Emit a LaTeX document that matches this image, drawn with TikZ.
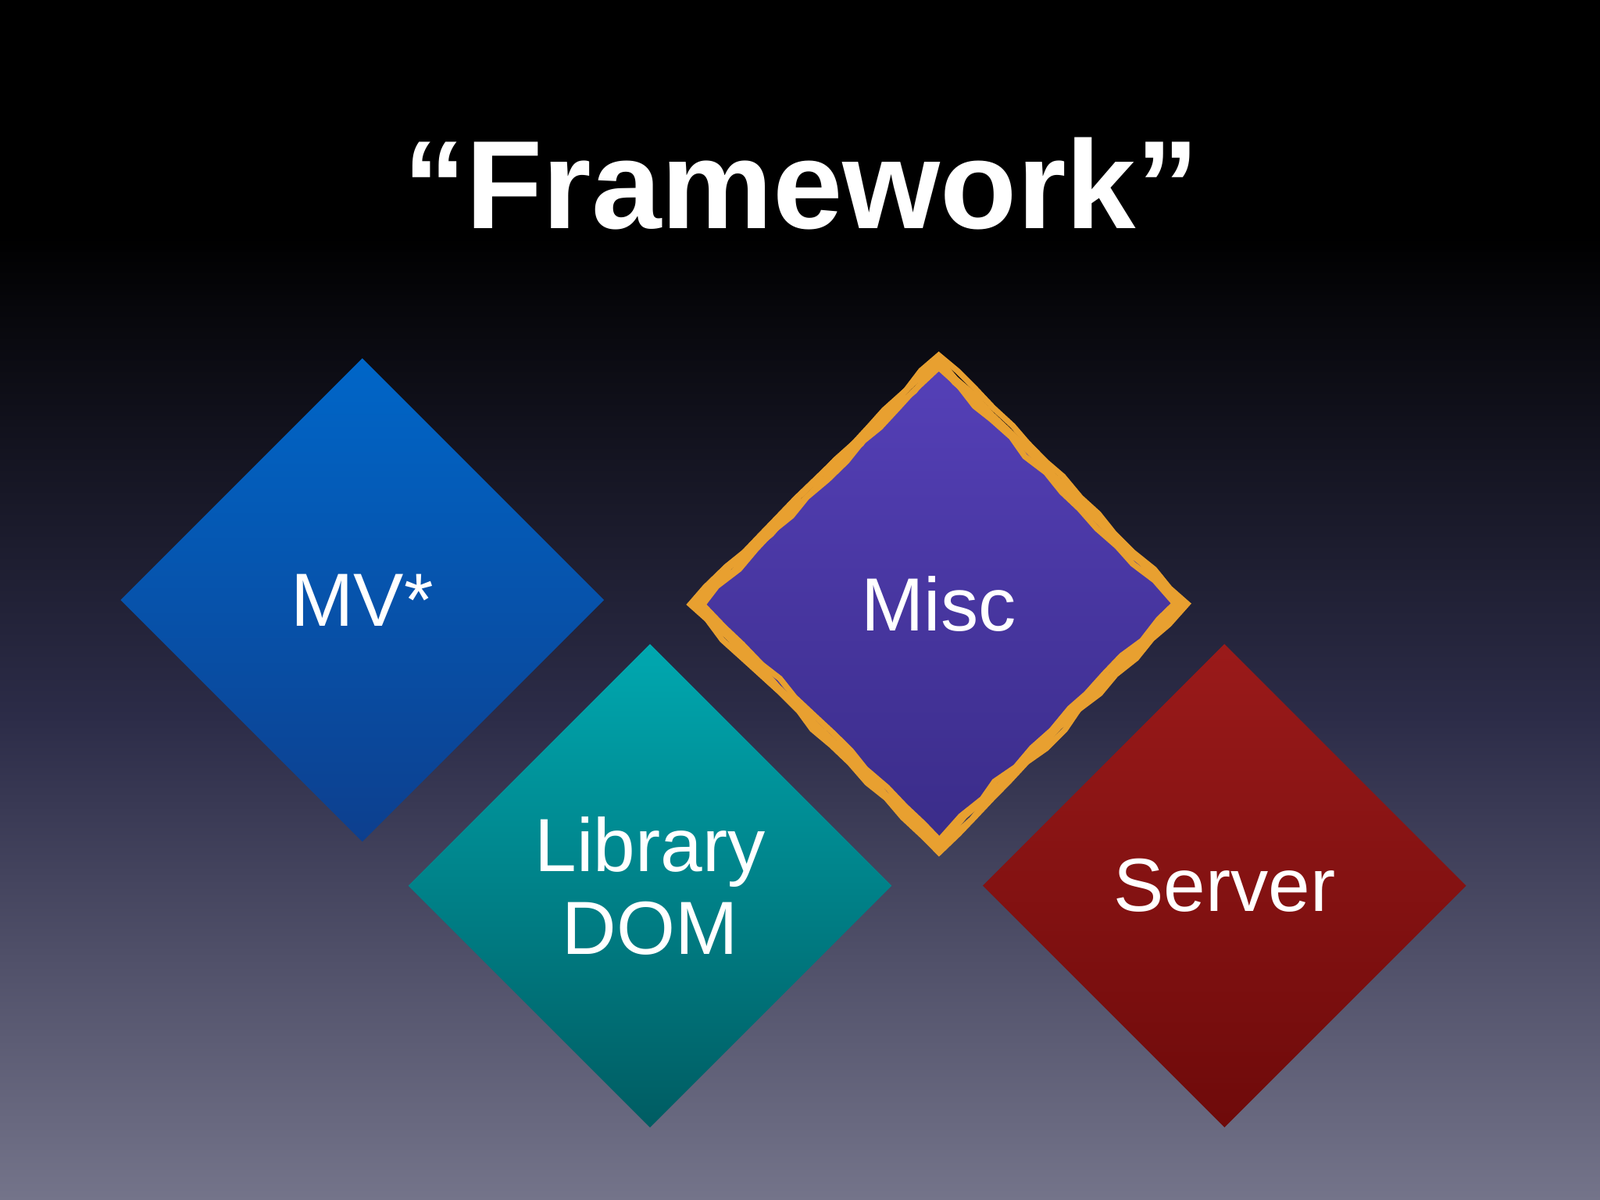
\documentclass[tikz,border=0pt]{standalone}
\usepackage{fontspec}
\setmainfont{Liberation Sans}
\usetikzlibrary{shapes.geometric,decorations.pathmorphing}
\definecolor{bgmid}{HTML}{2C2C48}
\definecolor{bgbot}{HTML}{74748A}
\definecolor{mvA}{HTML}{0066C8}\definecolor{mvB}{HTML}{0D3F8E}
\definecolor{libA}{HTML}{00A8B0}\definecolor{libB}{HTML}{005C62}
\definecolor{miscA}{HTML}{5540B8}\definecolor{miscB}{HTML}{3A2C88}
\definecolor{srvA}{HTML}{9A1A1A}\definecolor{srvB}{HTML}{6E0A0A}
\definecolor{gold}{HTML}{E8A030}
\tikzset{
  dia/.style={diamond, aspect=1, minimum size=4.74cm, inner sep=0pt, text=white,
    font=\fontsize{21}{25}\selectfont, align=center},
  rough/.style={draw=gold, decorate,
    decoration={random steps, segment length=7pt, amplitude=0.7pt}, line width=1.6pt}
}
\begin{document}
\begin{tikzpicture}[x=0.01cm,y=-0.01cm]
\useasboundingbox (0,0) rectangle (1568,1176);
\fill[black] (0,0) rectangle (1568,231);
\shade[top color=black, bottom color=bgbot, middle color=bgmid] (0,230) rectangle (1568,1176);
\node (title) at (785,180) [text=white, font=\fontsize{35}{40}\selectfont\bfseries] {“Framework”};
\node[dia, top color=mvA, bottom color=mvB] (mv) at (355,588) {MV*};
\node[dia, top color=libA, bottom color=libB] (lib) at (637,868) {Library\\[-2pt]DOM};
\node[dia, top color=miscA, bottom color=miscB] (misc) at (920,592) {Misc};
\node[dia, top color=srvA, bottom color=srvB] (srv) at (1200,868) {Server};
\foreach \d in {-6,-2,2,6}{
  \draw[rough] ([yshift=\d*0.01cm]misc.north) -- ([xshift=\d*0.01cm]misc.east) -- ([yshift=-\d*0.01cm]misc.south) -- ([xshift=-\d*0.01cm]misc.west) -- cycle;
}
\end{tikzpicture}
\end{document}
